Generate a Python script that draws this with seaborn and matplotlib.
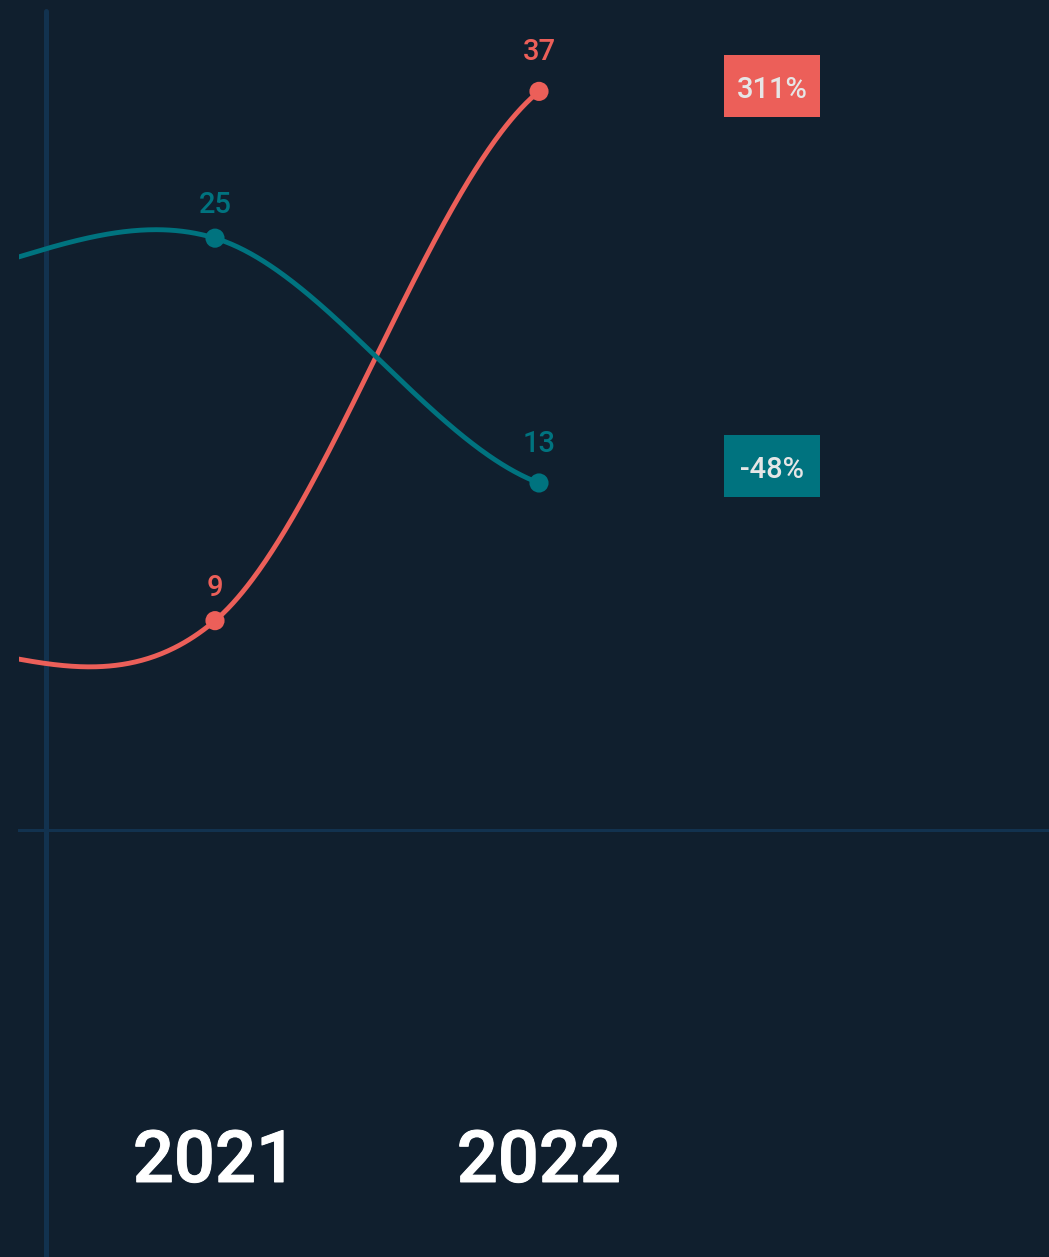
import numpy as np
import pandas as pd
import matplotlib
matplotlib.use("Agg")
import matplotlib.pyplot as plt
import matplotlib.patheffects as pe
import seaborn as sns
from matplotlib.patches import Rectangle
from matplotlib.transforms import ScaledTranslation

# ---------------- data ----------------
years = [2020, 2021, 2022]
series_names = ["red", "teal"]
red_values = [8.5, 9, 37]
teal_values = [22, 25, 13]
shown_years = [2021, 2022]
year_labels = ["2021", "2022"]
change_labels = ["311%", "-48%"]

# ---------------- style ----------------
BG = "#101f2e"
RED = "#ec5f59"
TEAL = "#00737f"
AXIS = "#12324f"
BADGE_TEXT = "#e6e6e6"

sns.set_theme(style="dark", rc={"axes.facecolor": BG, "figure.facecolor": BG})
plt.rcParams["font.family"] = ["Roboto", "Noto Sans", "DejaVu Sans"]

W, H, DPI = 1049, 1257, 100
fig = plt.figure(figsize=(W / DPI, H / DPI), dpi=DPI, facecolor=BG)
ax_left, ax_bottom_px = 19, 830
ax = fig.add_axes([ax_left / W, (H - ax_bottom_px) / H, (W - ax_left) / W, ax_bottom_px / H])
ax.set_facecolor("none")


def smooth(xs, ys, n=200):
    """Cardinal (Catmull-Rom) Hermite curve in log space; endpoints use half the end secant."""
    xs = np.asarray(xs, float)
    ly = np.log(np.asarray(ys, float))
    h = np.diff(xs)
    d = np.diff(ly) / h
    m = np.empty_like(ly)
    m[1:-1] = (ly[2:] - ly[:-2]) / (xs[2:] - xs[:-2])
    m[0] = d[0] / 2
    m[-1] = d[-1] / 2
    t = np.linspace(0, 1, n)
    h00 = 2 * t**3 - 3 * t**2 + 1
    h10 = t**3 - 2 * t**2 + t
    h01 = -2 * t**3 + 3 * t**2
    h11 = t**3 - t**2
    ox, oy = [], []
    for i in range(len(xs) - 1):
        ox.append(xs[i] + t * h[i])
        oy.append(h00 * ly[i] + h10 * h[i] * m[i] + h01 * ly[i + 1] + h11 * h[i] * m[i + 1])
    return np.concatenate(ox), np.exp(np.concatenate(oy))


curves = []
for name, vals in zip(series_names, [red_values, teal_values]):
    cx, cy = smooth(years, vals)
    curves.append(pd.DataFrame({"x": cx, "v": cy, "series": name}))
curve_df = pd.concat(curves, ignore_index=True)

points_df = pd.DataFrame({
    "x": years * 2,
    "v": red_values + teal_values,
    "series": ["red"] * 3 + ["teal"] * 3,
})
palette = {"red": RED, "teal": TEAL}

ax.set_yscale("log")
sns.lineplot(data=curve_df, x="x", y="v", hue="series", palette=palette,
             sort=False, estimator=None, legend=False, linewidth=3.5, ax=ax, zorder=3)
sns.scatterplot(data=points_df, x="x", y="v", hue="series", palette=palette,
                s=190, linewidth=0, legend=False, ax=ax, zorder=4)

# scales: 2021 at px 215, 2022 at px 539
px_per_year = 324.0
x0 = 2021 - (215 - ax_left) / px_per_year
x1 = 2022 + (W - 539) / px_per_year
ax.set_xlim(x0, x1)
ax.set_ylim(np.exp((1443.3 - 830) / 374.4), np.exp(1443.3 / 374.4))

# axes decorations
for side in ["top", "right", "left"]:
    ax.spines[side].set_visible(False)
ax.spines["bottom"].set_color(AXIS)
ax.spines["bottom"].set_linewidth(2.2)
ax.set_xticks([])
ax.set_yticks([])
ax.minorticks_off()
ax.set_xlabel("")
ax.set_ylabel("")
ax.grid(False)

# vertical rule
vx = 2021 - (215 - 45.5) / px_per_year
ax.axvline(vx, ymin=(ax_bottom_px - H) / ax_bottom_px, ymax=1 - 11 / ax_bottom_px,
           color=AXIS, linewidth=3.6, clip_on=False, zorder=1)

# value labels
label_offsets_px = [25, 31]
for vals, color in [(red_values, RED), (teal_values, TEAL)]:
    for yr, off in zip(shown_years, label_offsets_px):
        v = vals[years.index(yr)]
        ax.annotate(f"{v:g}", xy=(yr, v), xytext=(0, off * 0.72), textcoords="offset points",
                    ha="center", va="baseline", color=color, fontsize=21, fontweight="medium")

# year labels
for yr, lab in zip(shown_years, year_labels):
    ax.text(yr, (ax_bottom_px - 1182) / ax_bottom_px, lab, transform=ax.get_xaxis_transform(),
            ha="center", va="baseline", color="white", fontsize=52, fontweight="medium",
            path_effects=[pe.withStroke(linewidth=0.7, foreground="white")])

# change badges
badge_dx_years = 0.719
badge_dy_px = [5, 17]
last = years[-1]
for vals, color, lab, dy in zip([red_values, teal_values], [RED, TEAL], change_labels, badge_dy_px):
    v = vals[-1]
    bx = last + badge_dx_years
    tr = fig.dpi_scale_trans + ScaledTranslation(bx, v, ax.transData)
    rect = Rectangle((-0.48, dy / DPI - 0.31), 0.96, 0.62, transform=tr,
                     facecolor=color, edgecolor="none", zorder=5, clip_on=False)
    ax.add_patch(rect)
    ax.annotate(lab, xy=(bx, v), xytext=(0, (dy - 12) * 0.72), textcoords="offset points",
                ha="center", va="baseline", color=BADGE_TEXT, fontsize=21, fontweight="medium",
                zorder=6)

fig.savefig("out.png", dpi=DPI, facecolor=BG)
